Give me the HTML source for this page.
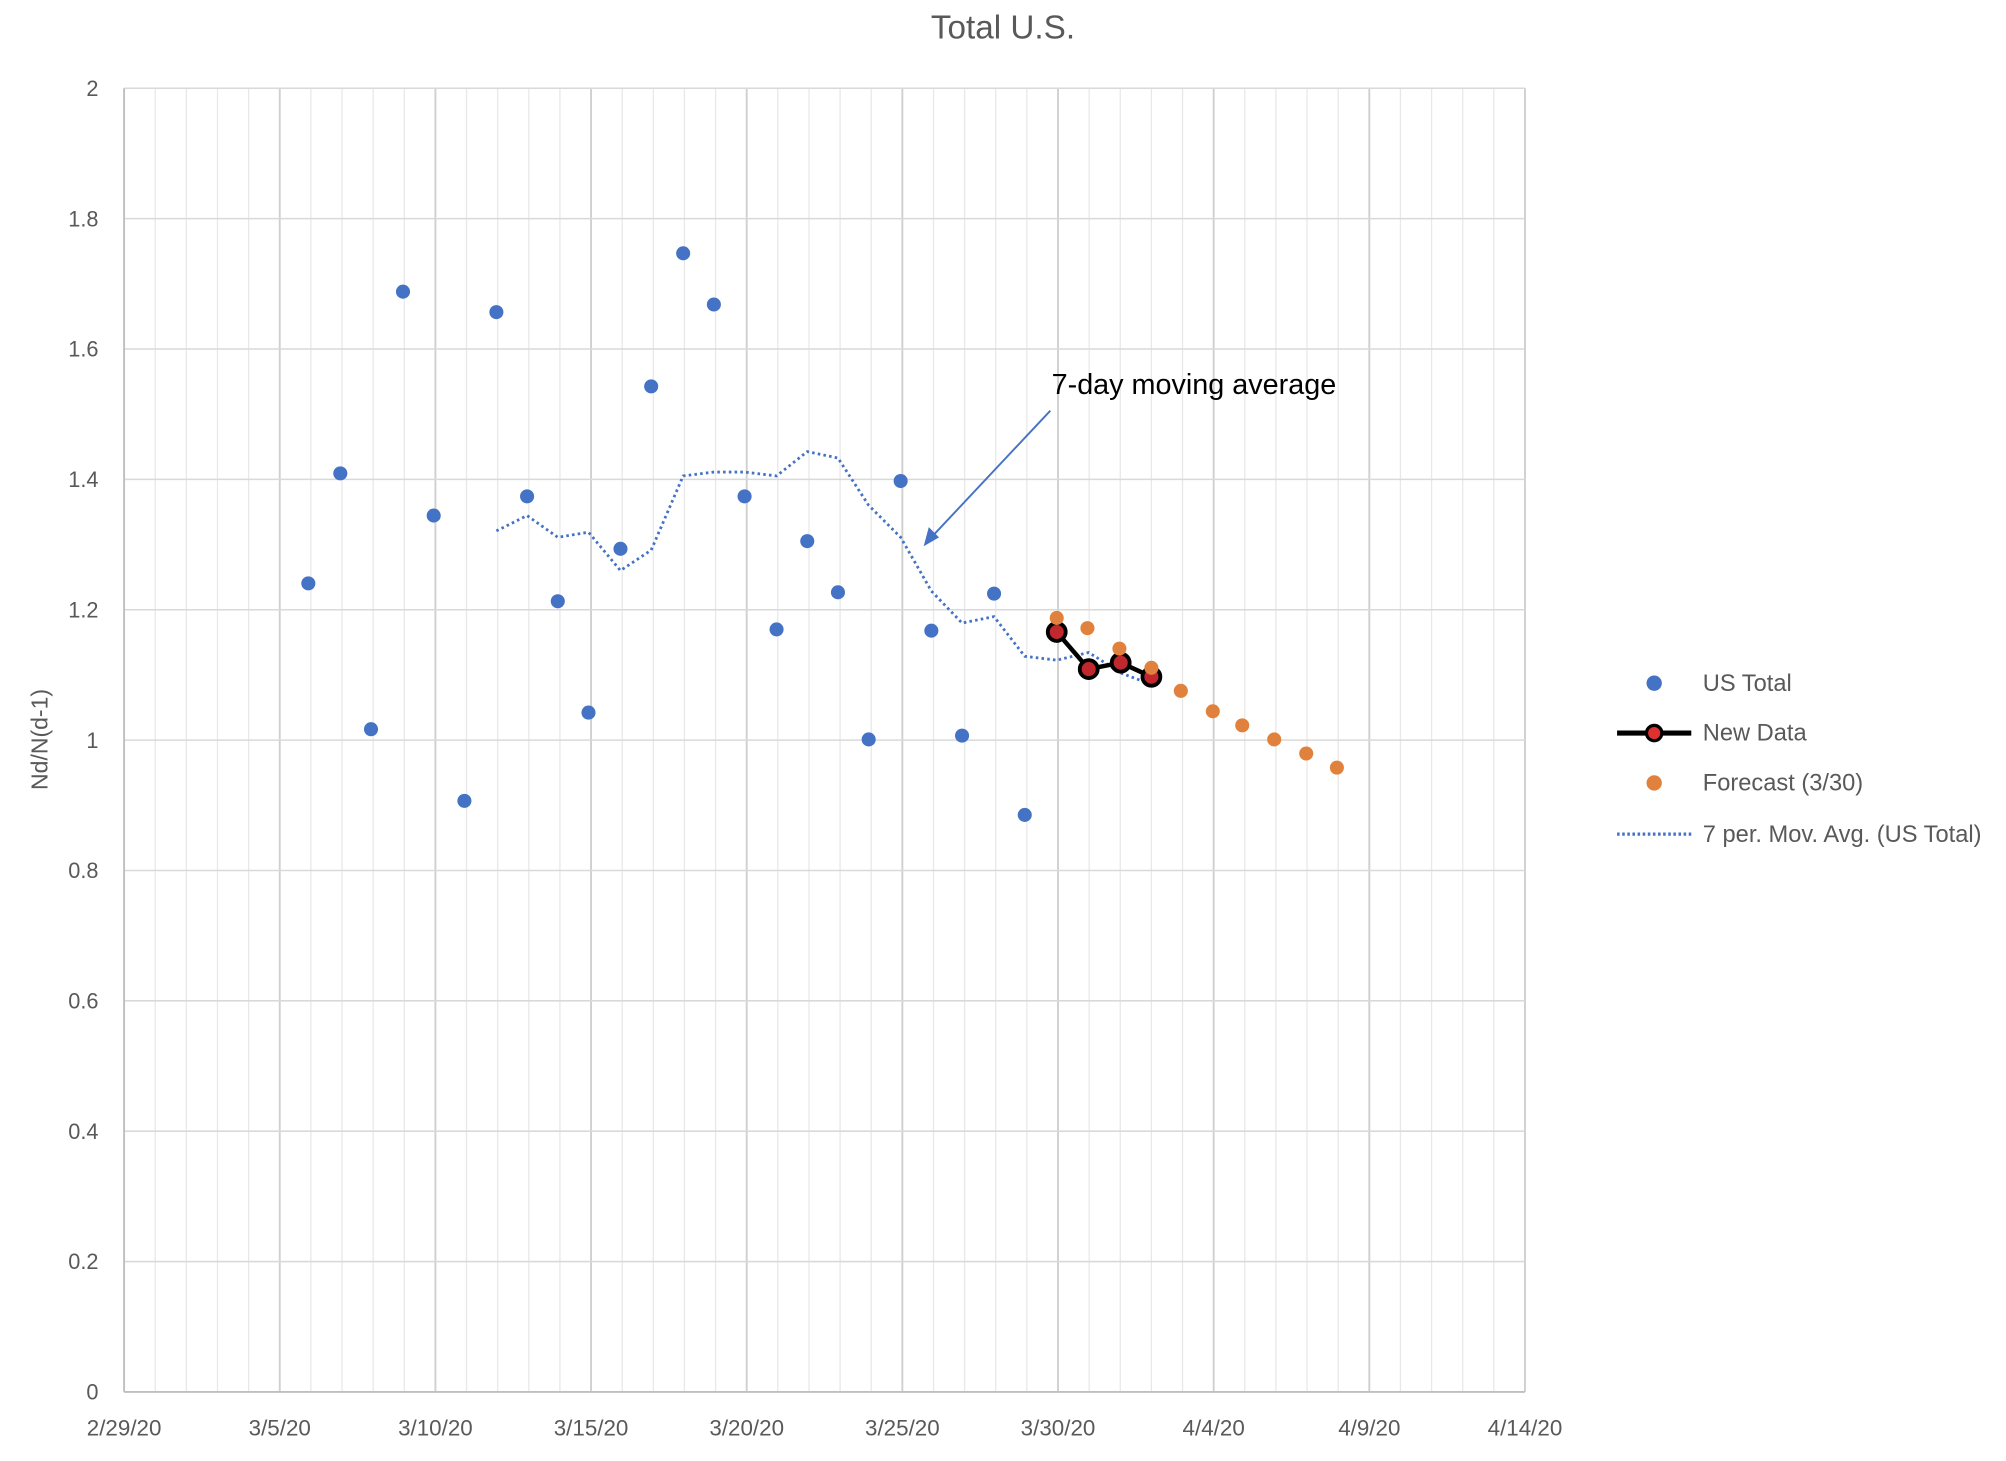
<!DOCTYPE html>
<html><head><meta charset="utf-8">
<style>
html,body{margin:0;padding:0;background:#fff;}
svg{display:block;}
text{font-family:"Liberation Sans",sans-serif;fill:#595959;}
</style></head>
<body>
<svg id="c" width="2006" height="1461" viewBox="0 0 1568 1142" xmlns="http://www.w3.org/2000/svg">
<rect width="1568" height="1142" fill="#fff"/>
<g id="grid"></g>
<g id="series"></g>
<text x="784" y="30" font-size="26" text-anchor="middle">Total U.S.</text>
<text transform="translate(37,578) rotate(-90)" font-size="18" text-anchor="middle">Nd/N(d-1)</text>
<line x1="821" y1="321" x2="728" y2="420" stroke="#4472c4" stroke-width="1.5"/>
<polygon points="722,427 726,412 734,420" fill="#4472c4"/>
<text x="822" y="308" font-size="22.5" style="fill:#000">7-day moving average</text>
<!-- legend -->
<circle cx="1293" cy="534" r="6" fill="#4472c4"/>
<text x="1331" y="540" font-size="18.5">US Total</text>
<line x1="1264" y1="573" x2="1322" y2="573" stroke="#000" stroke-width="4"/>
<circle cx="1293" cy="573" r="6" fill="#e03030" stroke="#000" stroke-width="2.5"/>
<text x="1331" y="579" font-size="18.5">New Data</text>
<circle cx="1293" cy="612" r="6" fill="#e0823d"/>
<text x="1331" y="618" font-size="18.5">Forecast (3/30)</text>
<line x1="1264" y1="652" x2="1324" y2="652" stroke="#4472c4" stroke-width="2.5" stroke-dasharray="2,2"/>
<text x="1331" y="658" font-size="18.5">7 per. Mov. Avg. (US Total)</text>
</svg>
<script>
var NS="http://www.w3.org/2000/svg";
function el(p,t,a,txt){var e=document.createElementNS(NS,t);for(var k in a)e.setAttribute(k,a[k]);if(txt!=null)e.textContent=txt;p.appendChild(e);return e;}
var g=document.getElementById('grid'),s=document.getElementById('series');
var L=97,R=1192,T=69,B=1088,dx=(R-L)/45;
function X(d){return L+d*dx;}function Y(v){return B-(B-T)*v/2;}
for(var d=1;d<=45;d++){var maj=d%5==0;el(g,'line',{x1:X(d),x2:X(d),y1:T,y2:B,stroke:maj?'#d0d0d0':'#e8e8e8','stroke-width':maj?1.5:1});}
for(var i=1;i<=10;i++){el(g,'line',{x1:L,x2:R,y1:Y(i*0.2),y2:Y(i*0.2),stroke:'#d9d9d9','stroke-width':1.2});}
el(g,'line',{x1:L,x2:L,y1:T,y2:B,stroke:'#bfbfbf','stroke-width':1.5});
el(g,'line',{x1:L,x2:R,y1:B,y2:B,stroke:'#bfbfbf','stroke-width':1.5});
var yl=['0','0.2','0.4','0.6','0.8','1','1.2','1.4','1.6','1.8','2'];
for(var i=0;i<=10;i++)el(g,'text',{x:77,y:Y(i*0.2)+6,'font-size':17,'text-anchor':'end'},yl[i]);
var xl=['2/29/20','3/5/20','3/10/20','3/15/20','3/20/20','3/25/20','3/30/20','4/4/20','4/9/20','4/14/20'];
for(var i=0;i<10;i++)el(g,'text',{x:X(i*5),y:1122,'font-size':17.5,'text-anchor':'middle'},xl[i]);
var ma=[[388,415],[412,403],[436,420],[460,416],[485,446],[509,430],[534,372],[558,369],[582,369],[607,372],[631,353],[655,358],[679,395],[704,420],[728,462],[752,487],[777,482],[801,513],[826,516],[851,510],[876,526],[900,535]];
el(s,'polyline',{points:ma.map(function(p){return p.join(',')}).join(' '),fill:'none',stroke:'#4472c4','stroke-width':2.2,'stroke-dasharray':'2,2.5'});
var blue=[[241,456],[266,370],[290,570],[315,228],[339,403],[363,626],[388,244],[412,388],[436,470],[460,557],[485,429],[509,302],[534,198],[558,238],[582,388],[607,492],[631,423],[655,463],[679,578],[704,376],[728,493],[752,575],[777,464],[801,637],[826,494],[851,523],[876,518],[900,529]];
blue.forEach(function(p){el(s,'circle',{cx:p[0],cy:p[1],r:5.5,fill:'#4472c4'});});
var nd=[[826,494],[851,523],[876,518],[900,529]];
el(s,'polyline',{points:nd.map(function(p){return p.join(',')}).join(' '),fill:'none',stroke:'#000','stroke-width':3.5});
nd.forEach(function(p){el(s,'circle',{cx:p[0],cy:p[1],r:7,fill:'#c0282e',stroke:'#000','stroke-width':3});});
var fc=[[826,483],[850,491],[875,507],[900,522],[923,540],[948,556],[971,567],[996,578],[1021,589],[1045,600]];
fc.forEach(function(p){el(s,'circle',{cx:p[0],cy:p[1],r:5.5,fill:'#e0823d'});});
</script>
</body></html>
